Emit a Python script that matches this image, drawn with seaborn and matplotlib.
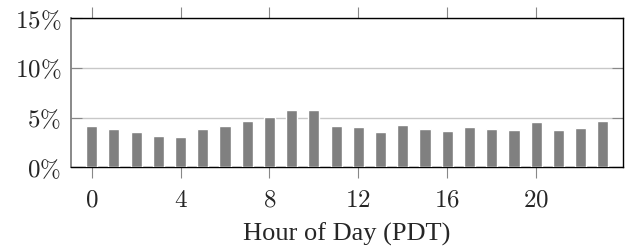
import matplotlib
matplotlib.use("Agg")
import matplotlib.pyplot as plt
from matplotlib.ticker import FuncFormatter
import numpy as np
import pandas as pd
import seaborn as sns

# share of activity per hour of day (percent)
hours = list(range(24))
share = [4.19, 3.86, 3.56, 3.12, 3.02, 3.83, 4.13, 4.70, 5.03, 5.77, 5.77, 4.13,
         4.06, 3.59, 4.30, 3.83, 3.66, 4.06, 3.89, 3.76, 4.53, 3.79, 3.99, 4.66]
xticks = [0, 4, 8, 12, 16, 20]
yticks = [0, 5, 10, 15]

df = pd.DataFrame({'hour': hours, 'share': share})

sns.set_style('white')
plt.rcParams['font.family'] = ['Liberation Serif', 'DejaVu Serif']
plt.rcParams['mathtext.fontset'] = 'cm'

fig = plt.figure(figsize=(6.28, 2.5), dpi=100)
ax = fig.add_axes([71 / 628, 1 - 167.3 / 250, 552.3 / 628, 149 / 250])

sns.barplot(data=df, x='hour', y='share', color='#808080', saturation=1,
            width=0.5, ax=ax, zorder=3)

ax.set_xlim(-0.93, 23.92)
ax.set_ylim(0, 15)
ax.set_xticks(xticks)
ax.set_xticklabels([f'${t}$' for t in xticks])
ax.set_yticks(yticks)
ax.yaxis.set_major_formatter(FuncFormatter(lambda v, p: f'${v:.0f}\\%$'))

ax.grid(axis='y', color='#c8c8c8', linewidth=1, zorder=0)
ax.grid(axis='x', visible=False)
for s in ax.spines.values():
    s.set_visible(True)
    s.set_color('black')
    s.set_linewidth(1)
ax.spines['left'].set_color('#808080')
ax.spines['left'].set_linewidth(1.3)

ax.tick_params(axis='x', direction='out', length=8, width=0.8, color='#888888',
               top=True, bottom=True, labelsize=18, pad=8)
ax.tick_params(axis='y', direction='in', length=8, width=0.8, color='#888888',
               left=True, right=True, labelsize=18, pad=7)

ax.set_xlabel('Hour of Day (PDT)', fontsize=19, labelpad=8)
ax.set_ylabel('')

fig.savefig('out.png', dpi=100)
